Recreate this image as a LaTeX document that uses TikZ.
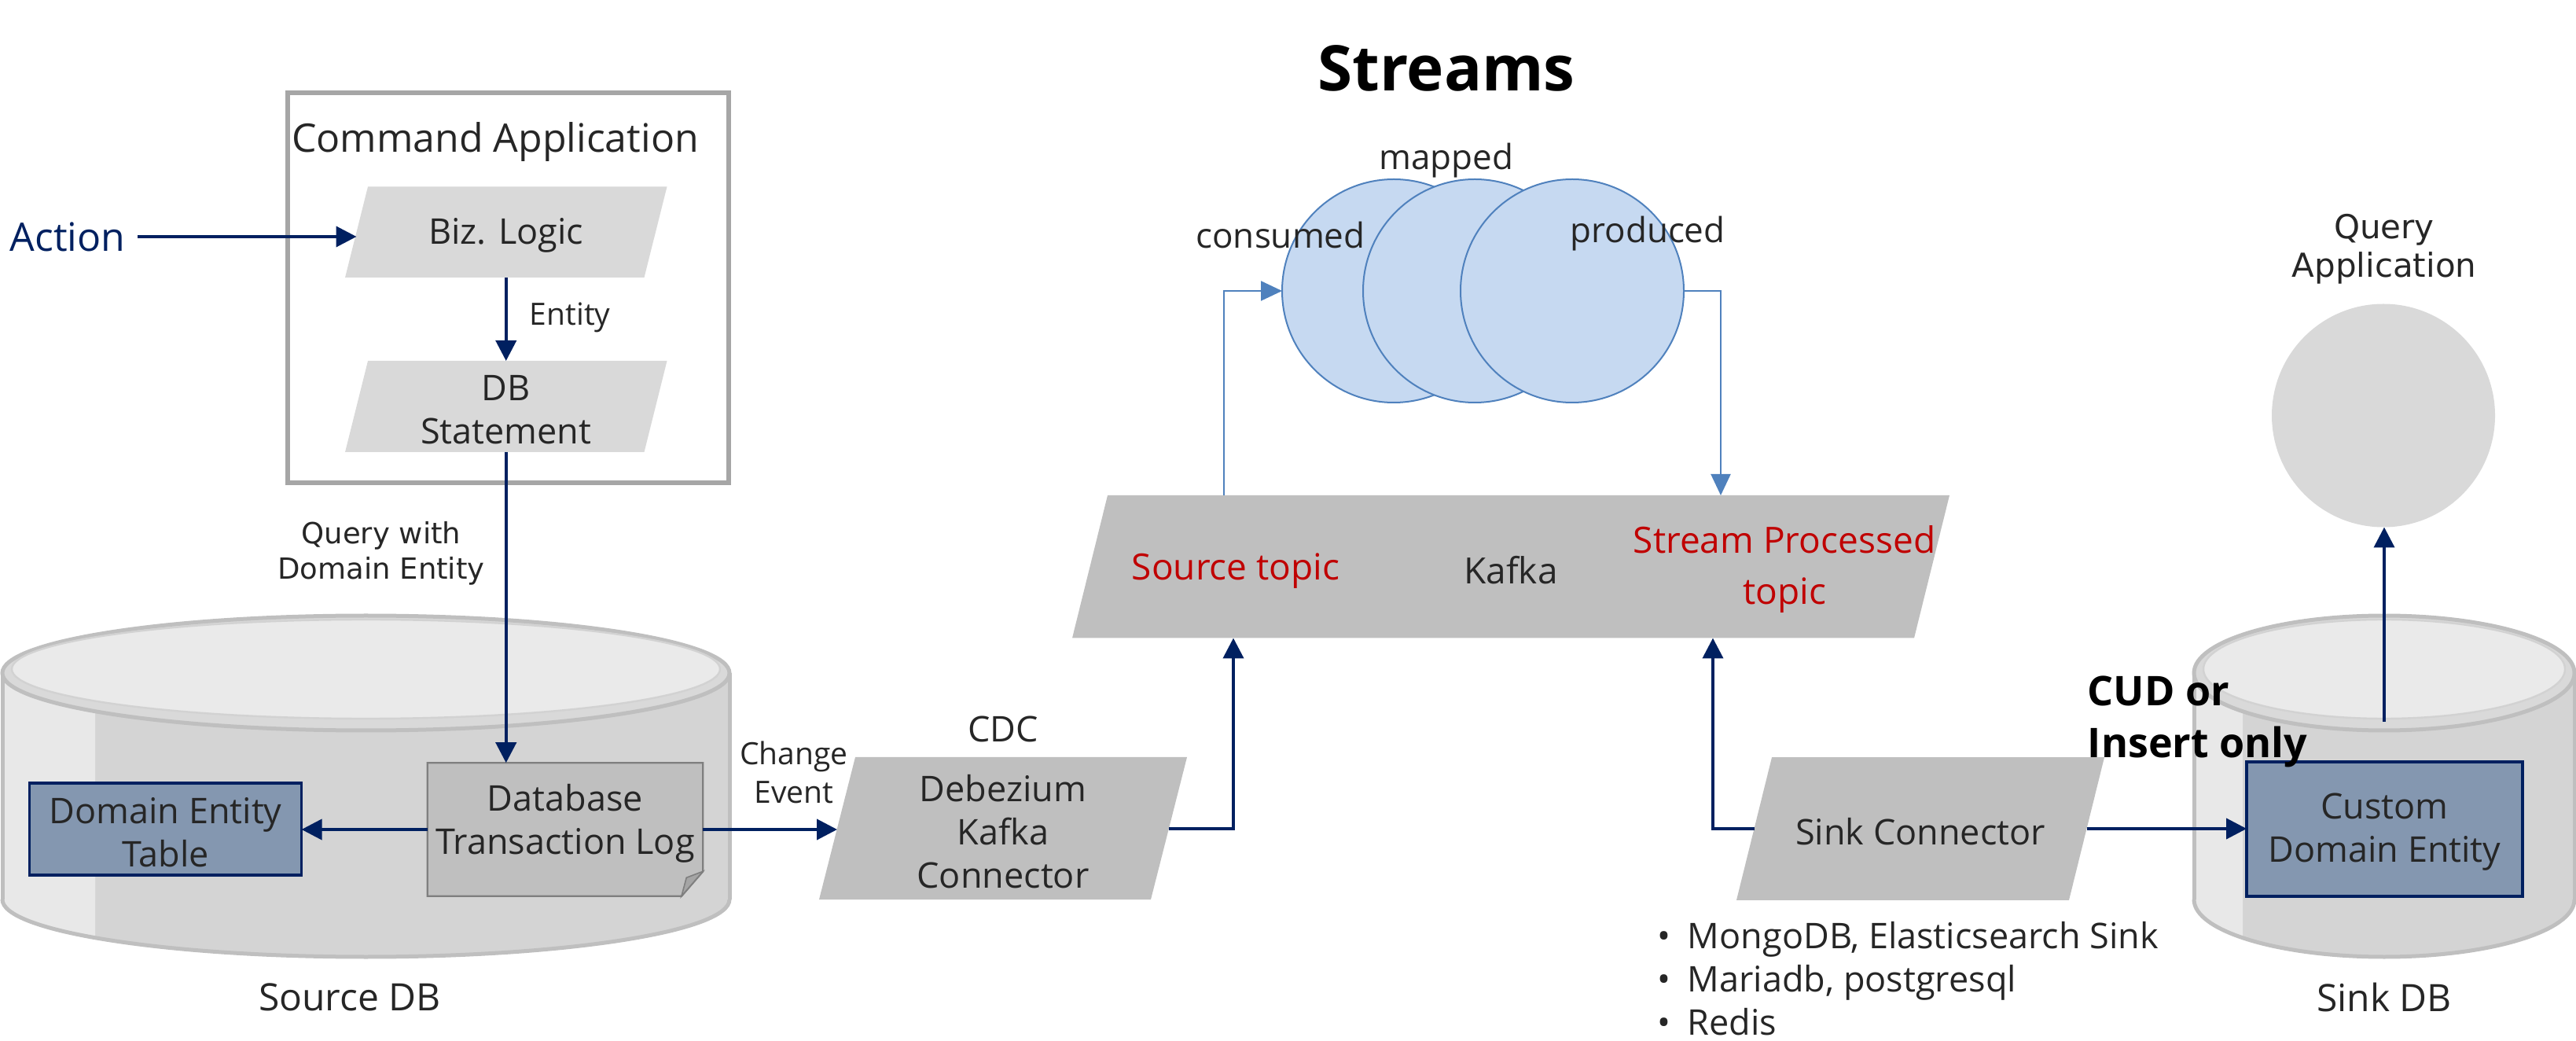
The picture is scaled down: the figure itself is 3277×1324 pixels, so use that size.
\documentclass[tikz,border=0pt]{standalone}
\usepackage{fontspec}
\setmainfont{Open Sans}
\newfontfamily\djv{DejaVu Sans}
\usetikzlibrary{arrows.meta,calc,backgrounds}
\pgfdeclarelayer{back}
\pgfdeclarelayer{mid}
\pgfsetlayers{back,mid,main}
\newcommand\upx{0.25pt}
\newcommand\fsz[2]{\fontsize{#1}{#2}\selectfont}
\definecolor{navy}{HTML}{002060}
\definecolor{steel}{HTML}{4F81BD}
\definecolor{circfill}{HTML}{C6D9F1}
\definecolor{g75}{HTML}{BFBFBF}
\definecolor{g85}{HTML}{D9D9D9}
\definecolor{g50}{HTML}{7F7F7F}
\definecolor{foldc}{HTML}{A5A5A5}
\definecolor{boxblue}{HTML}{8497B0}
\definecolor{redtxt}{HTML}{C00000}
\definecolor{txt}{HTML}{262626}
\definecolor{cmdgray}{HTML}{A6A6A6}
\definecolor{cylbodyc}{HTML}{D4D4D4}
\definecolor{cyllightc}{HTML}{E8E8E8}
\definecolor{cylrimc}{HTML}{BFBFBF}
\definecolor{cylrimfillc}{HTML}{D9D9D9}
\definecolor{cyltopc}{HTML}{EAEAEA}
\definecolor{cylinnerc}{HTML}{D2D2D2}
\newcommand\parafill[3]{%
  \begin{pgfonlayer}{mid}
  \fill[#3] ($(#1.north west)+(#2,0)$) -- ($(#1.north east)+(#2,0)$) -- ($(#1.south east)-(#2,0)$) -- ($(#1.south west)-(#2,0)$) -- cycle;
  \end{pgfonlayer}}
\newcommand\dbcyl[3]{%
  \begin{pgfonlayer}{back}
  \fill[cylbodyc] (#1,1144) ellipse [x radius=#2, y radius=73];
  \fill[cylbodyc] ({#1-#2},856) rectangle ({#1+#2},1144);
  \begin{scope}
    \clip ({#1-#2-20},700) rectangle (#3,1300);
    \fill[cyllightc] (#1,1144) ellipse [x radius=#2, y radius=73];
    \fill[cyllightc] ({#1-#2},856) rectangle ({#1+#2},1144);
  \end{scope}
  \begin{scope}
    \clip ({#1-#2-20},1144) rectangle ({#1+#2+20},1300);
    \draw[draw=cylrimc, line width=1.25pt] (#1,1144) ellipse [x radius=#2, y radius=73];
  \end{scope}
  \draw[draw=cylrimc, line width=1.25pt] ({#1-#2},856) -- ({#1-#2},1144);
  \draw[draw=cylrimc, line width=1.25pt] ({#1+#2},856) -- ({#1+#2},1144);
  \filldraw[draw=cylrimc, line width=1.25pt, fill=cylrimfillc] (#1,856) ellipse [x radius=#2, y radius=73];
  \filldraw[draw=cylinnerc, line width=0.6pt, fill=cyltopc] (#1,851) ellipse [x radius={#2-12}, y radius=63];
  \end{pgfonlayer}}
\begin{document}
\begin{tikzpicture}[x=0.25pt, y=-0.25pt,
  sz/.style 2 args={minimum width=#1*\upx, minimum height=#2*\upx, inner sep=0pt, outer sep=0pt},
  lbl/.style={text=txt, align=center, inner sep=0pt, font=\fsz{11.25}{13.75}},
  tl/.style={lbl, yshift=-1pt},
  smalltxt/.style={tl, font=\fsz{9.75}{12.25}},
  circ/.style={circle, minimum size=284*\upx, inner sep=0pt, outer sep=0pt, fill=circfill, draw=steel, line width=0.5pt},
  navyarr/.style={draw=navy, line width=1pt, -{Triangle[length=6.5pt,width=6.5pt]}},
  bluearr/.style={draw=steel, line width=0.55pt, -{Triangle[length=6.75pt,width=6.25pt]}}]
\useasboundingbox (0,0) rectangle (3277,1324);

% title
\node[tl, font=\fsz{20}{24}\bfseries, text=black] (title) at (1840,83) {Streams};

% command application
\node[sz={561}{496}, draw=cmdgray, line width=1.5pt] (cmd) at (646.5,366) {};
\node[tl, font=\fsz{12.5}{15}] (cmdtitle) at (630,177) {Command Application};
\node[tl, font=\fsz{12.5}{15}, text=navy, inner sep=3.75pt] (action) at (86,297) {Action};
\node[sz={380.5}{115.5}] (biz) at (643.75,295.25) {};
\parafill{biz}{14.5}{g85}
\node[tl] (biztext) at (biz.center) {Biz. Logic};
\node[sz={380.5}{116}] (dbs) at (643.75,517) {};
\parafill{dbs}{14.5}{g85}
\node[tl] (dbstext) at (dbs.center) {DB\\Statement};
\node[smalltxt, anchor=west] (entity) at (673,400) {Entity};
\node[tl, font=\djv\fsz{9.25}{11.25}] (qwith) at (485,700) {Query with\\Domain Entity};

% cylinders
\dbcyl{465.5}{462.5}{121}
\dbcyl{3033}{242}{2853}

% source db contents
\node[sz={346}{117}, fill=boxblue, draw=navy, line width=0.9pt] (dtable) at (210.6,1054.5) {};
\node[tl] (dtabletext) at (dtable.center) {Domain Entity\\Table};
\node[sz={350.5}{169.5}] (txlog) at (719,1055) {};
\begin{pgfonlayer}{mid}
\filldraw[fill=g75, draw=g50, line width=0.6pt] (txlog.north west) -- (txlog.north east) -- ($(txlog.south east)+(0,-31.5)$) -- ($(txlog.south east)+(-27.3,0)$) -- (txlog.south west) -- cycle;
\filldraw[fill=foldc, draw=g50, line width=0.4pt] ($(txlog.south east)+(0,-31.5)$) -- ($(txlog.south east)+(-27.3,0)$) -- ($(txlog.south east)+(-21,-23.5)$) -- cycle;
\end{pgfonlayer}
\node[tl] (txlogtext) at ([yshift=3pt]txlog.center) {Database\\Transaction Log};
\node[tl, font=\fsz{12}{14}] (srcdb) at (445,1264) {Source DB};

% CDC
\node[smalltxt] (chg) at (1010,978) {Change\\Event};
\node[tl] (cdc) at (1276,923) {CDC};
\node[sz={422}{181}] (deb) at (1276,1053.5) {};
\parafill{deb}{23}{g75}
\node[tl] (debtext) at (deb.center) {Debezium\\Kafka\\Connector};

% Kafka
\node[sz={1071}{181.5}] (kafka) at (1922,720.75) {};
\parafill{kafka}{22.5}{g75}
\node[tl, font=\fsz{11.5}{16.25}] (kafkatext) at (kafka.center) {Kafka};
\node[tl, font=\fsz{11.5}{16.25}, text=redtxt] (srctopic) at (1572,722) {Source topic};
\node[tl, font=\fsz{11.5}{16.25}, text=redtxt] (sptopic) at (2270,720) {Stream Processed\\topic};

% streams circles
\node[circ] (c1) at (1773,370) {};
\node[circ] (c2) at (1876,370) {};
\node[circ] (c3) at (2000,370) {};
\node[tl, font=\fsz{11}{13}] (mapped) at (1840,200) {mapped};
\node[tl, font=\fsz{11}{13}] (consumed) at (1629,295) {consumed};
\node[tl, font=\fsz{11}{13}] (produced) at (2096,293) {produced};

% sink side
\node[sz={423}{181.6}] (sink) at (2443,1054) {};
\parafill{sink}{22.5}{g75}
\node[tl] (sinktext) at (sink.center) {Sink Connector};
\node[sz={351}{171}, fill=boxblue, draw=navy, line width=1.1pt] (custom) at (3033.5,1054.5) {};
\node[tl] (customtext) at (custom.center) {Custom\\Domain Entity};
\node[tl, font=\fsz{13}{16.5}\bfseries, text=black, align=left, anchor=north west] (cud) at (2655,855) {CUD or\\Insert only};
\node[tl, align=left, anchor=north west] (bul) at (2108,1168) {\textbullet\hspace{5.3pt}MongoDB, Elasticsearch Sink\\\textbullet\hspace{5.3pt}Mariadb, postgresql\\\textbullet\hspace{5.3pt}Redis};
\node[tl, font=\fsz{12}{14}] (sinkdb) at (3033,1264) {Sink DB};
\node[circle, minimum size=284*\upx, inner sep=0pt, outer sep=0pt, fill=g85] (qapp) at (3032,528.5) {};
\node[tl, font=\djv\fsz{10.5}{12.25}] (qlabel) at (3033,313) {Query\\Application};
\coordinate (sinktop) at (3033,918);

% connectors
\draw[navyarr] (action.east) -- (action.east -| biz.west);
\draw[navyarr] (biz.south) -- (dbs.north);
\draw[navyarr] (dbs.south) -- (dbs.south |- txlog.north);
\draw[navyarr] (txlog.west) -- (txlog.west -| dtable.east);
\draw[navyarr] (txlog.east) -- (txlog.east -| deb.west);
\draw[navyarr] (deb.east) -| ($(kafka.south)+(-353,0)$);
\draw[navyarr] (sink.west) -| ($(kafka.south)+(257,0)$);
\draw[navyarr] (sink.east) -- (sink.east -| custom.west);
\draw[navyarr] (sinktop) -- (sinktop |- qapp.south);
\draw[bluearr] ($(kafka.north)+(-365,0)$) |- (c1.west);
\draw[bluearr] (c3.east) -| ($(kafka.north)+(267,0)$);
\end{tikzpicture}
\end{document}
